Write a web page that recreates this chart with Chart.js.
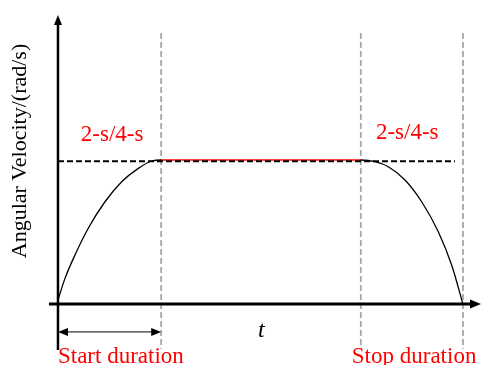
<!DOCTYPE html>
<html lang="en">
<head>
    <meta charset="UTF-8" />
    <title>Angular velocity profile</title>
    <script src="https://cdn.jsdelivr.net/npm/chart.js"></script>
    <style>
        body { margin: 0; background: #fff; }
        .wrap { width: 481px; height: 365px; position: relative; }
    </style>
</head>
<body>
<div class="wrap"><canvas id="grafico"></canvas></div>

<script>
// speed profile: ramp up, hold, ramp down (time in arbitrary units)
const rampUpT   = [0, 0.136, 0.329, 0.587, 0.911, 1.235, 1.557, 1.817, 2.0];
const rampUpW   = [0.028, 0.178, 0.340, 0.526, 0.710, 0.849, 0.942, 0.993, 1.0];
const rampDownT = [5.87, 6.145, 6.403, 6.726, 7.05, 7.372, 7.631, 7.85];
const rampDownW = [1.0, 0.988, 0.953, 0.861, 0.710, 0.502, 0.271, 0.0];
const plateau = 1.0;
const markers = [2.0, 5.87, 7.85];      // start end, stop begin, stop end
const durationLabel = '2-s/4-s';
const startLabel = 'Start duration';
const stopLabel = 'Stop duration';
const yTitle = 'Angular Velocity/(rad/s)';
const xTitle = 't';

const curve = rampUpT.map((t, i) => ({ x: t, y: rampUpW[i] }))
    .concat(rampDownT.map((t, i) => ({ x: t, y: rampDownW[i] })));

const serif = '"Liberation Serif", "Times New Roman", serif';

function arrowHead(ctx, x, y, dx, dy, len, half) {
    // tip at (x, y), pointing along (dx, dy)
    const bx = x - dx * len, by = y - dy * len;
    ctx.beginPath();
    ctx.moveTo(x, y);
    ctx.lineTo(bx - dy * half, by + dx * half);
    ctx.lineTo(bx + dy * half, by - dx * half);
    ctx.closePath();
    ctx.fill();
}

const decor = {
    id: 'decor',
    afterDatasetsDraw(chart) {
        const ctx = chart.ctx;
        const px = v => chart.scales.x.getPixelForValue(v);
        const py = v => chart.scales.y.getPixelForValue(v);
        ctx.save();
        ctx.strokeStyle = '#000';
        ctx.fillStyle = '#000';

        // y axis (runs a little below the x axis)
        ctx.lineWidth = 2.5;
        ctx.beginPath();
        ctx.moveTo(px(0), py(-0.32));
        ctx.lineTo(px(0), py(2.0) + 6);
        ctx.stroke();
        arrowHead(ctx, px(0), py(2.007), 0, -1, 10, 4);

        // x axis
        ctx.lineWidth = 3;
        ctx.beginPath();
        ctx.moveTo(px(-0.175), py(0));
        ctx.lineTo(px(8.2) - 6, py(0));
        ctx.stroke();
        arrowHead(ctx, px(8.2), py(0), 1, 0, 11, 4.5);

        // start duration bracket
        const yb = py(-0.194);
        ctx.lineWidth = 1;
        ctx.beginPath();
        ctx.moveTo(px(0) + 4, yb);
        ctx.lineTo(px(markers[0]) - 4, yb);
        ctx.stroke();
        arrowHead(ctx, px(0), yb, -1, 0, 10, 4);
        arrowHead(ctx, px(markers[0]), yb, 1, 0, 10, 4);

        // labels
        ctx.fillStyle = '#ff0000';
        ctx.font = '23px ' + serif;
        ctx.textAlign = 'center';
        ctx.textBaseline = 'alphabetic';
        ctx.fillText(durationLabel, px(1.05), py(1.13));
        ctx.fillText(durationLabel, px(6.77), py(1.146));
        ctx.textAlign = 'left';
        ctx.fillText(startLabel, px(0), 363);
        ctx.fillText(stopLabel, px(markers[1]) - 9, 363);

        ctx.fillStyle = '#000';
        ctx.font = 'italic 24px ' + serif;
        ctx.fillText(xTitle, 258, 337);

        ctx.font = '22px ' + serif;
        ctx.textAlign = 'center';
        ctx.textBaseline = 'middle';
        ctx.translate(20, 151);
        ctx.rotate(-Math.PI / 2);
        ctx.fillText(yTitle, 0, 0);
        ctx.restore();
    }
};

const guideSets = markers.map(t => ({
    data: [{ x: t, y: 1.882 }, { x: t, y: -0.31 }],
    borderColor: '#a6a6a6',
    borderWidth: 1.8,
    borderDash: [6, 3],
    pointRadius: 0,
    order: 3
}));

const ctxG = document.getElementById('grafico').getContext('2d');
const grafico = new Chart(ctxG, {
    type: 'line',
    data: {
        datasets: [
            {
                data: curve,
                borderWidth: 1.3,
                borderColor: '#000',
                segment: {
                    borderColor: c => (c.p0.parsed.y === plateau && c.p1.parsed.y === plateau) ? '#ff0000' : '#000'
                },
                cubicInterpolationMode: 'monotone',
                pointRadius: 0,
                order: 2
            },
            {
                data: [{ x: 0, y: plateau - 0.008 }, { x: 7.695, y: plateau - 0.008 }],
                borderColor: '#000',
                borderWidth: 2,
                borderDash: [6, 3],
                pointRadius: 0,
                order: 1
            },
            ...guideSets
        ]
    },
    options: {
        responsive: true,
        maintainAspectRatio: false,
        animation: false,
        layout: { padding: 0 },
        plugins: { legend: { display: false }, tooltip: { enabled: false } },
        scales: {
            x: { type: 'linear', min: -1.124, max: 8.2, display: false },
            y: { type: 'linear', min: -0.4236, max: 2.111, display: false }
        }
    },
    plugins: [decor]
});
</script>
</body>
</html>
